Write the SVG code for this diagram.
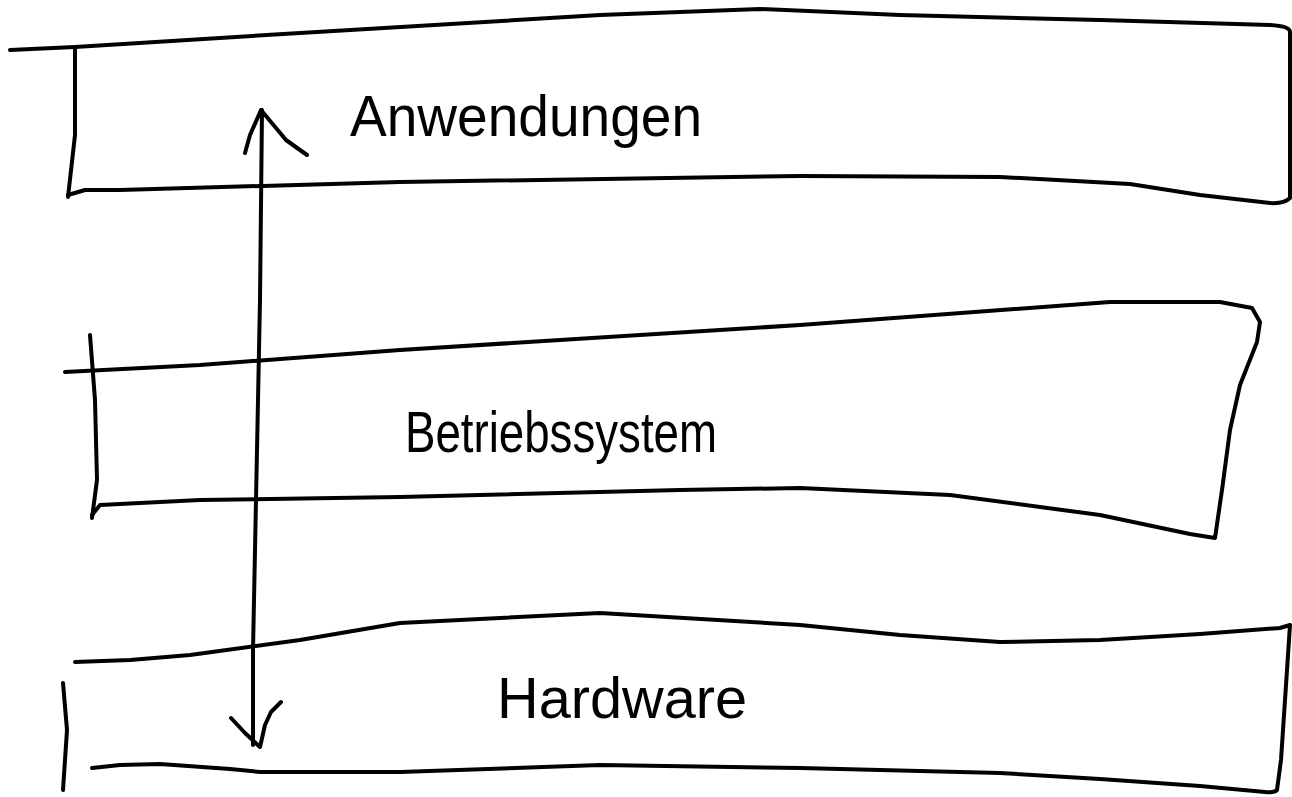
<svg xmlns="http://www.w3.org/2000/svg" width="1292" height="797" viewBox="0 0 1292 797">
<style>
.s{fill:none;stroke:#000;stroke-width:4;stroke-linecap:round;stroke-linejoin:round}
.t{font-family:"Liberation Sans","DejaVu Sans",sans-serif;font-size:58px;fill:#000}
</style>
<rect width="1292" height="797" fill="#fff"/>
<g id="anwendungen">
<path class="s" d="M10,50 L75,47 L300,33 L600,15 L760,9 L900,15 L1100,20 L1270,25 Q1290,26 1290,32 L1290,198 Q1284,204 1270,203 L1200,195 L1130,184 L1000,177 L800,176 L400,182 L120,190 L85,190 L68,195"/>
<path class="s" d="M75,48 L75,135 L68,197"/>
<text class="t" x="350" y="136" textLength="352" lengthAdjust="spacingAndGlyphs">Anwendungen</text>
</g>
<g id="betriebssystem">
<path class="s" d="M65,372 L200,365 L400,350 L800,325 L1110,302 L1220,302 L1252,308 L1260,322 L1257,342 L1240,385 L1230,430 L1222,490 L1215,538 L1190,534 L1100,515 L950,495 L800,488 L680,490 L400,497 L200,500 L100,505 L92,515"/>
<path class="s" d="M90,335 L95,400 L97,480 L92,518"/>
<text class="t" x="405" y="452" textLength="312" lengthAdjust="spacingAndGlyphs">Betriebssystem</text>
</g>
<g id="hardware">
<path class="s" d="M75,662 L130,660 L190,655 L300,640 L400,623 L600,613 L800,625 L900,635 L1000,642 L1100,640 L1200,634 L1280,628 L1290,625 L1285,700 L1281,760 L1277,790 Q1274,793 1265,792 L1200,786 L1100,779 L1000,773 L800,768 L600,765 L400,772 L260,772 L230,769 L160,764 L120,765 L92,768"/>
<path class="s" d="M63,683 L67,730 L63,790"/>
<text class="t" x="497" y="718" textLength="250" lengthAdjust="spacingAndGlyphs">Hardware</text>
</g>
<g id="connectors">
<path class="s" d="M262,110 L260,300 L256,500 L253,650 L253,745"/>
<path class="s" d="M245,153 L250,135 L261,110 L286,140 L307,155"/>
<path class="s" d="M231,718 L245,733 L260,747 L265,725 L271,712 L281,702"/>
</g>
</svg>
